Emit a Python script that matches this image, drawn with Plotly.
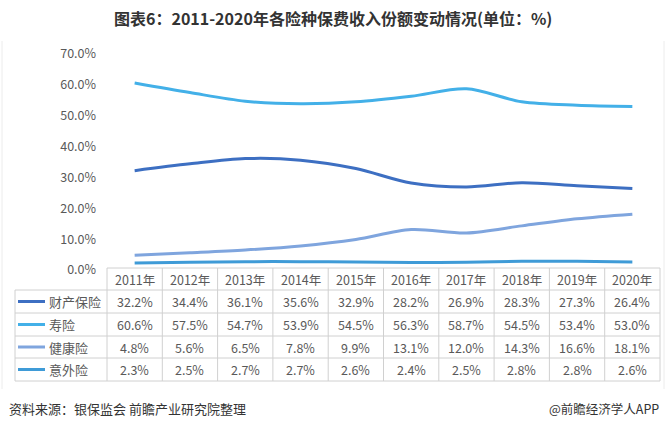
import plotly.graph_objects as go

years = ["2011年", "2012年", "2013年", "2014年", "2015年", "2016年", "2017年", "2018年", "2019年", "2020年"]
series_names = ["财产保险", "寿险", "健康险", "意外险"]
property_ins = [32.2, 34.4, 36.1, 35.6, 32.9, 28.2, 26.9, 28.3, 27.3, 26.4]
life_ins = [60.6, 57.5, 54.7, 53.9, 54.5, 56.3, 58.7, 54.5, 53.4, 53.0]
health_ins = [4.8, 5.6, 6.5, 7.8, 9.9, 13.1, 12.0, 14.3, 16.6, 18.1]
accident_ins = [2.3, 2.5, 2.7, 2.7, 2.6, 2.4, 2.5, 2.8, 2.8, 2.6]
y_ticks = [0, 10, 20, 30, 40, 50, 60, 70]
y_tick_labels = ["0.0%", "10.0%", "20.0%", "30.0%", "40.0%", "50.0%", "60.0%", "70.0%"]

colors = ["#3d6fc2", "#43b0e8", "#7fa5de", "#3f9bd7"]
all_series = [property_ins, life_ins, health_ins, accident_ins]

W, H = 666, 428
L, R, T, B = 107, 660, 54, 270  # plot area in pixels
font = "Noto Sans CJK SC"
txt = "#595959"

def px_x(p):
    return (p - L) / (R - L)

def px_y(p):
    return (B - p) / (B - T)

fig = go.Figure()
xs = list(range(len(years)))
for name, vals, c in zip(series_names, all_series, colors):
    fig.add_trace(go.Scatter(x=xs, y=vals, name=name, mode="lines",
                             line=dict(color=c, width=3, shape="spline", smoothing=0.9),
                             showlegend=False, hoverinfo="skip"))

shapes = []
annotations = []
grid_c = "#d0d0d0"
row_edges = [268, 290, 313, 336, 358, 381]
tbl_left = 15
col_w = (R - L) / len(years)

shapes.append(dict(type="line", xref="paper", yref="paper", x0=px_x(L), x1=px_x(R),
                   y0=px_y(row_edges[0]), y1=px_y(row_edges[0]), line=dict(color=grid_c, width=1)))
for ry in row_edges[1:]:
    shapes.append(dict(type="line", xref="paper", yref="paper", x0=px_x(tbl_left), x1=px_x(R),
                       y0=px_y(ry), y1=px_y(ry), line=dict(color=grid_c, width=1)))
shapes.append(dict(type="line", xref="paper", yref="paper", x0=px_x(tbl_left), x1=px_x(tbl_left),
                   y0=px_y(row_edges[1]), y1=px_y(row_edges[-1]), line=dict(color=grid_c, width=1)))
for i in range(len(years) + 1):
    xx = L + i * col_w
    shapes.append(dict(type="line", xref="paper", yref="paper", x0=px_x(xx), x1=px_x(xx),
                       y0=px_y(row_edges[0]), y1=px_y(row_edges[-1]), line=dict(color=grid_c, width=1)))
for fx in [2, 664]:
    shapes.append(dict(type="line", xref="paper", yref="paper", x0=px_x(fx), x1=px_x(fx),
                       y0=px_y(41), y1=px_y(389), line=dict(color="#ececec", width=1)))

for i, yr in enumerate(years):
    annotations.append(dict(x=i, xref="x", y=px_y((row_edges[0] + row_edges[1]) / 2), yref="paper",
                            text=yr, showarrow=False, font=dict(family=font, size=12.5, color=txt),
                            xanchor="center", yanchor="middle"))
for r, (name, vals, c) in enumerate(zip(series_names, all_series, colors)):
    cy = (row_edges[r + 1] + row_edges[r + 2]) / 2
    shapes.append(dict(type="line", xref="paper", yref="paper", x0=px_x(18), x1=px_x(45),
                       y0=px_y(cy), y1=px_y(cy), line=dict(color=c, width=3)))
    annotations.append(dict(x=px_x(47), xref="paper", y=px_y(cy), yref="paper", text=name,
                            showarrow=False, font=dict(family=font, size=13, color=txt),
                            xanchor="left", yanchor="middle"))
    for i, v in enumerate(vals):
        annotations.append(dict(x=i, xref="x", y=px_y(cy), yref="paper", text=f"{v:.1f}%",
                                showarrow=False, font=dict(family=font, size=12.5, color=txt),
                                xanchor="center", yanchor="middle"))

annotations.append(dict(x=px_x(333), xref="paper", y=px_y(18), yref="paper",
                        text="<b>图表6：2011-2020年各险种保费收入份额变动情况(单位：%)</b>",
                        showarrow=False, font=dict(family=font, size=16, color="#333333"),
                        xanchor="center", yanchor="middle"))
annotations.append(dict(x=px_x(7), xref="paper", y=px_y(408), yref="paper",
                        text="资料来源：银保监会 前瞻产业研究院整理",
                        showarrow=False, font=dict(family=font, size=13, color="#333333"),
                        xanchor="left", yanchor="middle"))
annotations.append(dict(x=px_x(661), xref="paper", y=px_y(408), yref="paper",
                        text="@前瞻经济学人APP",
                        showarrow=False, font=dict(family=font, size=12.5, color="#333333"),
                        xanchor="right", yanchor="middle"))

fig.update_layout(
    width=W, height=H,
    margin=dict(l=L, r=W - R, t=T, b=H - B),
    paper_bgcolor="white", plot_bgcolor="white",
    shapes=shapes, annotations=annotations,
    xaxis=dict(range=[-0.5, len(years) - 0.5], showgrid=False, zeroline=False,
               showticklabels=False, showline=False, fixedrange=True),
    yaxis=dict(range=[0, 70], tickvals=y_ticks, ticktext=y_tick_labels, showgrid=False,
               zeroline=False, showline=False, ticks="", ticklabelstandoff=10,
               tickfont=dict(family=font, size=12.5, color=txt)),
)

fig.write_html("out.html", config={"displayModeBar": False},
               post_script="document.body.style.margin='0';document.body.style.overflow='hidden';")
